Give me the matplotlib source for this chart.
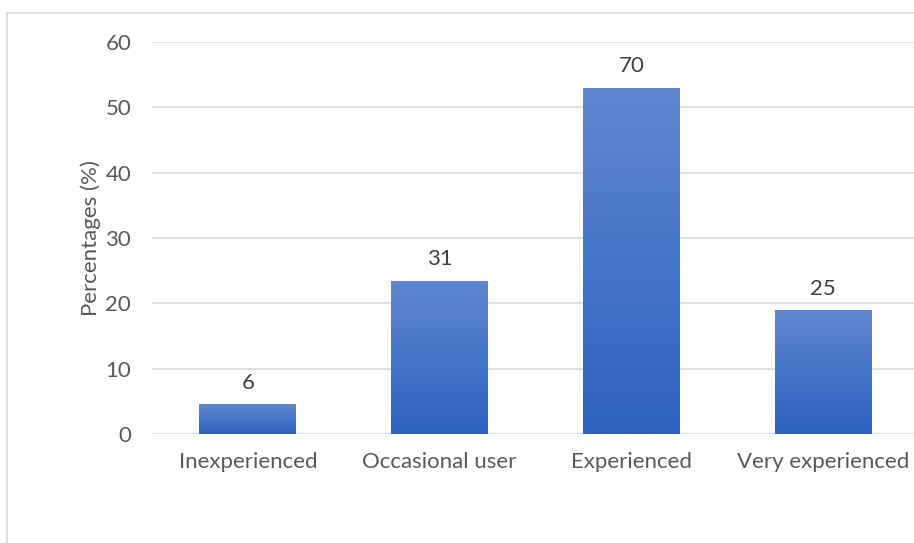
import numpy as np
import matplotlib.pyplot as plt
from matplotlib.lines import Line2D

categories = ["Inexperienced", "Occasional user", "Experienced", "Very experienced"]
counts = [6, 31, 70, 25]
yticks = [0, 10, 20, 30, 40, 50, 60]

total = sum(counts)
pct = [100.0 * c / total for c in counts]

plt.rcParams['font.family'] = ['Lato', 'DejaVu Sans']
fs = 16
tcol = "#595959"

W, H = 914, 543
fig = plt.figure(figsize=(W / 100, H / 100), dpi=100)

# plot area in pixels (right edge runs past the figure)
left, right, top, bottom = 152, 919, 42, 434
ax = fig.add_axes([left / W, 1 - bottom / H, (right - left) / W, (bottom - top) / H])

x = np.arange(len(categories))
bw = 0.505

grad = np.linspace(0, 1, 256).reshape(-1, 1)
cmap = plt.matplotlib.colors.LinearSegmentedColormap.from_list("bar", ["#2e61bf", "#6087d0"])
for xi, p, c in zip(x, pct, counts):
    bar = ax.bar(xi, p, width=bw, color="none", edgecolor="none", zorder=3)[0]
    im = ax.imshow(grad, cmap=cmap, aspect="auto", origin="lower",
                   extent=[xi - bw / 2, xi + bw / 2, 0, p], zorder=3)
    im.set_clip_path(bar)
    ax.annotate(str(c), (xi, p), xytext=(0, 8), textcoords="offset points",
                ha="center", va="bottom", fontsize=fs, color="#404040")

ax.set_xlim(-0.5, len(categories) - 0.5)
ax.set_ylim(0, 60)
ax.set_yticks(yticks)
ax.set_xticks(x)
ax.set_xticklabels(categories)
ax.tick_params(axis="both", length=0, labelsize=fs, colors=tcol)
ax.tick_params(axis="y", pad=15)
ax.tick_params(axis="x", pad=13)
ax.yaxis.grid(True, color="#d9d9d9", linewidth=1.2, zorder=0)
ax.set_axisbelow(True)
for s in ax.spines.values():
    s.set_visible(False)
ax.set_ylabel("Percentages (%)", fontsize=fs, color=tcol, labelpad=3)

# outer chart frame
fig.add_artist(Line2D([7 / W, 7 / W], [0, 1 - 13 / H], color="#d9d9d9", linewidth=1.2))
fig.add_artist(Line2D([7 / W, 1], [1 - 13 / H, 1 - 13 / H], color="#d9d9d9", linewidth=1.2))

fig.savefig("out.png", dpi=100)
